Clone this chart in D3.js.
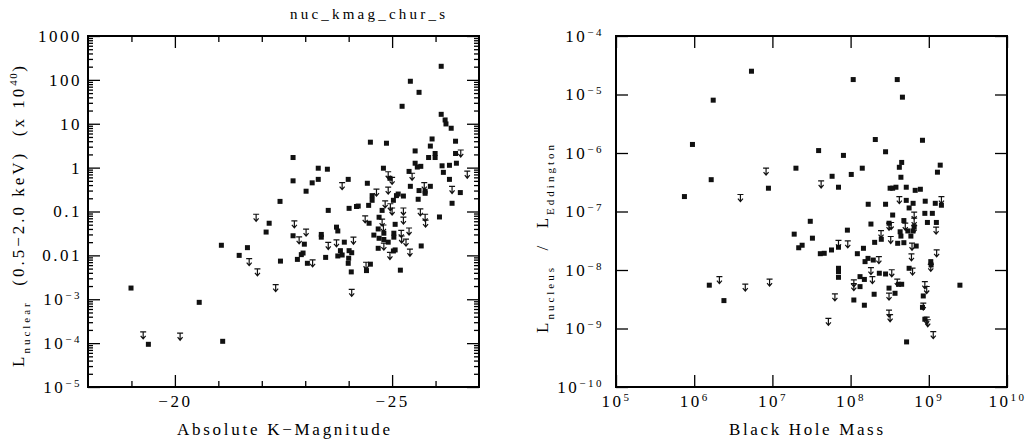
<!DOCTYPE html>
<html>
<head>
<meta charset="utf-8">
<script src="https://cdn.jsdelivr.net/npm/d3@7"></script>
<style>
  body { margin: 0; background: #fff; }
  svg text { font-family: "Liberation Serif", serif; fill: #000; white-space: pre; }
</style>
</head>
<body>
<svg id="chart" width="1029" height="444"></svg>
<script>
// left panel: nuclear X-ray luminosity vs absolute K magnitude
var kmagDet = [-22.42,-22.17,-22.10,-21.07,-21.48,-21.67,-22.43,-18.99,-20.56,-19.39,-21.10,
  -26.13,-25.42,-25.62,-25.23,-26.13,-26.22,-26.24,-26.36,-24.50,-24.87,-25.92,-26.46,-25.88,
  -25.53,-25.99,-25.84,-25.99,-26.46,-22.72,-25.53,-25.58,-25.66,-26.15,-26.32,-26.48,-23.30,
  -23.51,-24.80,-25.39,-26.18,-22.72,-23.30,-23.16,-23.99,-24.95,-26.32,-24.43,-25.42,-25.88,
  -26.57,-23.02,-24.54,-25.10,-25.14,-25.26,-25.62,-25.76,-25.76,-25.60,-24.54,-25.03,-26.38,
  -24.46,-24.01,-24.18,-24.22,-24.77,-23.53,-26.09,-24.70,-24.47,-25.07,-23.72,-24.68,-22.72,
  -22.98,-22.95,-22.91,-22.82,-23.05,-23.37,-23.37,-23.47,-23.75,-23.90,-23.81,-23.85,-23.75,
  -24.01,-24.07,-24.00,-23.99,-24.06,-24.58,-24.81,-24.70,-24.81,-24.91,-24.68,-24.50,-24.41,
  -25.04,-25.04,-25.03,-25.07,-25.67,-25.19];
var lumDet = [0.17,0.054,0.034,0.017,0.010,0.015,0.0074,0.0018,0.00085,9.4e-5,1.1e-4,
  204,93,52,25,16.4,12.2,9.9,7.9,3.8,3.6,4.5,4.0,3.1,
  2.4,2.1,1.7,1.7,2.1,1.7,1.26,1.03,1.07,1.1,1.13,1.26,0.97,
  0.92,0.97,0.82,0.78,0.50,0.54,0.45,0.54,0.57,0.54,0.44,0.375,0.375,
  0.27,0.29,0.23,0.23,0.25,0.225,0.30,0.29,0.26,0.19,0.18,0.18,0.154,
  0.138,0.118,0.13,0.133,0.106,0.106,0.075,0.074,0.054,0.051,0.044,0.040,0.028,
  0.018,0.0113,0.0104,0.0081,0.0066,0.030,0.026,0.0090,0.036,0.020,0.0128,0.0102,0.0097,
  0.0128,0.0115,0.0086,0.0066,0.0042,0.029,0.032,0.0245,0.023,0.020,0.0145,0.0063,0.0045,
  0.032,0.026,0.0126,0.0133,0.0164,0.0046];
var kmagUL = [-21.87,-21.71,-21.90,-22.32,-19.27,-20.12,-26.58,-26.73,-24.91,-25.00,-25.46,
  -23.85,-25.74,-26.38,-24.64,-24.91,-24.84,-24.96,-25.00,-25.26,-25.65,-25.76,-24.38,-25.26,
  -24.77,-22.75,-23.02,-22.86,-23.17,-23.53,-23.72,-24.11,-24.07,-24.80,-24.81,-24.40,-25.21,
  -25.22,-25.32,-25.39,-24.95,-25.41,-25.77];
var lumUL = [0.072,0.0070,0.0041,0.0018,1.5e-4,1.4e-4,2.1,0.69,0.67,0.50,0.62,
  0.38,0.38,0.31,0.27,0.30,0.146,0.125,0.10,0.10,0.096,0.072,0.066,0.062,
  0.056,0.051,0.033,0.022,0.0066,0.0164,0.0188,0.0216,0.0014,0.041,0.0158,0.0058,0.031,
  0.023,0.0195,0.035,0.0097,0.0115,0.053];

// right panel: Eddington ratio vs black hole mass
var massDet = [5.4e6,1.75e6,9.5e5,3.9e7,2.0e7,1.65e6,8.9e6,7.5e5,1.08e8,3.95e8,4.6e8,2.07e8,
  8.3e8,8.1e7,2.8e8,4.5e8,4.2e8,1.4e9,1.29e9,1.41e8,5.8e7,1.02e8,7.0e7,4.4e8,3.2e8,3.45e8,
  3.8e8,5.15e8,6.7e8,7.8e8,1.68e8,2.8e8,5.15e8,6.3e8,5.6e8,9.0e8,1.21e9,1.45e9,1.56e6,2.4e6,
  1.9e7,3.05e7,3.25e7,2.17e7,2.4e7,4.1e7,4.6e7,5.7e7,7.0e7,9.1e7,1.22e8,1.46e8,1.53e8,1.67e8,
  1.95e8,1.82e8,2.03e8,2.47e8,3.45e8,3.1e8,4.3e8,4.4e8,4.0e8,4.8e8,4.8e8,5.4e8,5.9e8,6.3e8,
  6.5e8,6.9e8,8.9e8,9.6e8,1.11e9,1.25e9,1.06e9,1.07e9,7.0e7,7.0e7,7.0e7,1.32e8,1.5e8,1.32e8,
  1.1e8,1.5e8,2.0e8,2.33e8,2.8e8,3.1e8,3.7e8,4.1e8,4.5e8,5.6e8,5.2e8,2.5e9,8.5e8,8.3e8,8.9e8];
var eddDet = [2.5e-5,8.0e-6,1.4e-6,1.1e-6,5.5e-7,3.5e-7,2.5e-7,1.8e-7,1.8e-5,1.8e-5,9.0e-6,1.7e-6,
  1.65e-6,9.1e-7,1.05e-6,6.9e-7,5.7e-7,6.2e-7,4.7e-7,5.5e-7,4.0e-7,4.3e-7,2.6e-7,3.85e-7,2.5e-7,2.5e-7,
  2.6e-7,2.6e-7,2.3e-7,2.4e-7,1.33e-7,1.33e-7,1.55e-7,1.38e-7,1.15e-7,1.5e-7,1.38e-7,1.28e-7,5.5e-9,3.0e-9,
  4.1e-8,6.8e-8,3.5e-8,2.4e-8,2.65e-8,1.9e-8,1.93e-8,2.2e-8,2.45e-8,4.8e-8,1.9e-8,2.35e-8,1.39e-8,1.58e-8,
  1.48e-8,6.1e-8,2.97e-8,3.35e-8,8.7e-8,6.3e-8,4.5e-8,3.8e-8,2.86e-8,2.93e-8,7.0e-8,4.65e-8,3.8e-8,4.65e-8,
  5.5e-8,2.57e-8,9.3e-8,6.5e-8,9.3e-8,6.5e-8,1.39e-8,1.22e-8,1.07e-8,9.4e-9,7.5e-9,7.7e-9,6.9e-9,5.2e-9,
  3.07e-9,2.5e-9,3.85e-9,8.8e-9,8.55e-9,4.9e-9,4.0e-9,5.7e-9,5.7e-9,1.07e-8,5.9e-10,5.5e-9,3.6e-9,2.3e-9,1.44e-9];
var massUL = [8.3e6,3.9e6,4.2e7,4.2e8,1.45e9,2.1e6,4.5e6,9.2e6,1.24e9,1.26e9,6.5e8,6.5e8,6.5e8,
  5.0e8,3.3e8,3.1e8,2.45e8,3.26e8,6.1e8,6.0e8,2.3e8,1.82e8,1.9e8,3.36e8,3.95e8,6.2e8,1.1e8,1.1e8,
  7.0e7,9.2e7,6.3e7,5.2e7,3.1e8,3.1e8,3.2e8,8.9e8,9.4e8,8.5e8,9.4e8,9.7e8,1.14e9,1.06e9];
var eddUL = [4.8e-7,1.7e-7,2.9e-7,1.57e-7,1.57e-7,6.7e-9,5.0e-9,6.1e-9,4.7e-8,1.93e-8,8.5e-8,6.7e-8,5.0e-8,
  5.5e-8,5.65e-8,5.5e-8,4.1e-8,3.26e-8,2.5e-8,1.65e-8,1.48e-8,9.6e-9,6.7e-9,8.8e-9,6.1e-9,9.4e-9,5.9e-9,5.1e-9,
  2.8e-8,2.75e-8,3.4e-9,1.3e-9,3.5e-9,1.8e-9,1.5e-9,5.5e-9,4.55e-9,2.36e-9,1.36e-9,1.23e-9,7.7e-10,1.09e-8];

var kmagMajor = [-20, -25];
var kmagMinor = [-19, -21, -22, -23, -24, -26];
var lumDecades = [1e-5, 1e-4, 1e-3, 0.01, 0.1, 1, 10, 100, 1000];
var lumLabels = {"0.01": "0.01", "0.1": "0.1", "1": "1", "10": "10", "100": "100", "1000": "1000"};
var massDecades = [1e5, 1e6, 1e7, 1e8, 1e9, 1e10];
var eddDecades = [1e-10, 1e-9, 1e-8, 1e-7, 1e-6, 1e-5, 1e-4];

var svg = d3.select("#chart");
var plotTop = 36, plotBottom = 387;

var xK = d3.scaleLinear().domain([-18, -27]).range([88, 479]);
var yL = d3.scaleLog().domain([1e-5, 1000]).range([plotBottom, plotTop]);
var xM = d3.scaleLog().domain([1e5, 1e10]).range([616, 1007]);
var yE = d3.scaleLog().domain([1e-10, 1e-4]).range([plotBottom, plotTop]);

// minor log ticks 2..9 in every decade
var lumMinor = [];
lumDecades.slice(0, -1).forEach(function(d) {
  for (var k = 2; k <= 9; k++) lumMinor.push(d * k);
});

function powLabel(sel, exp) {
  sel.text(null);
  sel.append("tspan").text("10");
  sel.append("tspan").attr("font-size", 11).attr("dy", "-0.55em").text(exp);
}

function styleAxis(g) {
  g.select(".domain").remove();
  g.selectAll(".tick line").attr("stroke", "#000").attr("stroke-width", 1.3);
  g.selectAll(".tick text").attr("font-family", "Liberation Serif")
    .attr("font-size", 17).attr("letter-spacing", 2.5).attr("fill", "#000");
}

// ----- left panel -----
var gl = svg.append("g");

gl.append("g").attr("transform", "translate(0," + plotBottom + ")")
  .call(d3.axisBottom(xK).tickValues(kmagMajor).tickSize(-12).tickPadding(8)
    .tickFormat(function(d) { return "\u2212" + Math.abs(d); }))
  .call(styleAxis);
gl.append("g").attr("transform", "translate(0," + plotBottom + ")")
  .call(d3.axisBottom(xK).tickValues(kmagMinor).tickSize(-6).tickFormat(""))
  .call(styleAxis);
gl.append("g").attr("transform", "translate(0," + plotTop + ")")
  .call(d3.axisTop(xK).tickValues(kmagMajor).tickSize(-12).tickFormat(""))
  .call(styleAxis);
gl.append("g").attr("transform", "translate(0," + plotTop + ")")
  .call(d3.axisTop(xK).tickValues(kmagMinor).tickSize(-6).tickFormat(""))
  .call(styleAxis);

var yAxL = gl.append("g").attr("transform", "translate(88,0)")
  .call(d3.axisLeft(yL).tickValues(lumDecades).tickSize(-12).tickPadding(6)
    .tickFormat(function(d) { return lumLabels[String(d)] || ""; }))
  .call(styleAxis);
yAxL.selectAll(".tick text").each(function(d) {
  if (d < 0.01) powLabel(d3.select(this), "\u2212" + Math.round(-Math.log10(d)));
});
gl.append("g").attr("transform", "translate(88,0)")
  .call(d3.axisLeft(yL).tickValues(lumMinor).tickSize(-5).tickFormat(""))
  .call(styleAxis);
gl.append("g").attr("transform", "translate(479,0)")
  .call(d3.axisRight(yL).tickValues(lumDecades).tickSize(-12).tickFormat(""))
  .call(styleAxis);
gl.append("g").attr("transform", "translate(479,0)")
  .call(d3.axisRight(yL).tickValues(lumMinor).tickSize(-5).tickFormat(""))
  .call(styleAxis);

gl.append("rect").attr("x", 88).attr("y", plotTop).attr("width", 391).attr("height", plotBottom - plotTop)
  .attr("fill", "none").attr("stroke", "#000").attr("stroke-width", 2);

// ----- right panel -----
var gr = svg.append("g");

var xAxR = gr.append("g").attr("transform", "translate(0," + plotBottom + ")")
  .call(d3.axisBottom(xM).tickValues(massDecades).tickSize(-12).tickPadding(8))
  .call(styleAxis);
xAxR.selectAll(".tick text").each(function(d) {
  powLabel(d3.select(this), String(Math.round(Math.log10(d))));
});
gr.append("g").attr("transform", "translate(0," + plotTop + ")")
  .call(d3.axisTop(xM).tickValues(massDecades).tickSize(-12).tickFormat(""))
  .call(styleAxis);

var yAxR = gr.append("g").attr("transform", "translate(616,0)")
  .call(d3.axisLeft(yE).tickValues(eddDecades).tickSize(-12).tickPadding(12))
  .call(styleAxis);
yAxR.selectAll(".tick text").each(function(d) {
  powLabel(d3.select(this), "\u2212" + Math.round(-Math.log10(d)));
});
gr.append("g").attr("transform", "translate(1007,0)")
  .call(d3.axisRight(yE).tickValues(eddDecades).tickSize(-12).tickFormat(""))
  .call(styleAxis);

gr.append("rect").attr("x", 616).attr("y", plotTop).attr("width", 391).attr("height", plotBottom - plotTop)
  .attr("fill", "none").attr("stroke", "#000").attr("stroke-width", 2);

// ----- markers -----
var arrow = "M-3,-3.5H3M0,-3.5V3.5M-2.5,0.5L0,3.5L2.5,0.5";

function squares(g, xs, ys, sx, sy) {
  g.append("g").selectAll("rect").data(xs).join("rect")
    .attr("x", function(d) { return sx(d) - 2.5; })
    .attr("y", function(d, i) { return sy(ys[i]) - 2.5; })
    .attr("width", 5).attr("height", 5).attr("fill", "#111");
}
function limits(g, xs, ys, sx, sy) {
  g.append("g").selectAll("path").data(xs).join("path")
    .attr("d", arrow)
    .attr("transform", function(d, i) { return "translate(" + sx(d) + "," + sy(ys[i]) + ")"; })
    .attr("fill", "none").attr("stroke", "#111").attr("stroke-width", 1.2);
}
squares(gl, kmagDet, lumDet, xK, yL);
limits(gl, kmagUL, lumUL, xK, yL);
squares(gr, massDet, eddDet, xM, yE);
limits(gr, massUL, eddUL, xM, yE);

// ----- titles and axis labels -----
svg.append("text").attr("x", 290).attr("y", 19).attr("font-size", 15)
  .attr("textLength", 155).attr("lengthAdjust", "spacing").text("nuc_kmag_chur_s");

svg.append("text").attr("x", 177).attr("y", 435).attr("font-size", 17)
  .attr("textLength", 213).attr("lengthAdjust", "spacing").text("Absolute K\u2212Magnitude");
svg.append("text").attr("x", 729).attr("y", 435).attr("font-size", 17)
  .attr("textLength", 154).attr("lengthAdjust", "spacing").text("Black Hole Mass");

// rotated y labels, written upward from the bottom end
var ylab = svg.append("text").attr("transform", "translate(24,367) rotate(-90)")
  .attr("font-size", 17).attr("letter-spacing", 3);
ylab.append("tspan").text("L");
ylab.append("tspan").attr("font-size", 11).attr("dy", 6).attr("letter-spacing", 3).text("nuclear");
ylab.append("tspan").attr("dy", -6).text("  (0.5\u22122.0 keV)  (x 10");
ylab.append("tspan").attr("font-size", 11).attr("dy", -7).attr("letter-spacing", 1.5).text("40");
ylab.append("tspan").attr("dy", 7).text(")");

var ylab2 = svg.append("text").attr("transform", "translate(548,333) rotate(-90)")
  .attr("font-size", 17).attr("letter-spacing", 3);
ylab2.append("tspan").text("L");
ylab2.append("tspan").attr("font-size", 11).attr("dy", 6).attr("letter-spacing", 3).text("nucleus");
ylab2.append("tspan").attr("dy", -6).text("  /  L");
ylab2.append("tspan").attr("font-size", 11).attr("dy", 6).attr("letter-spacing", 3).text("Eddington");
</script>
</body>
</html>
